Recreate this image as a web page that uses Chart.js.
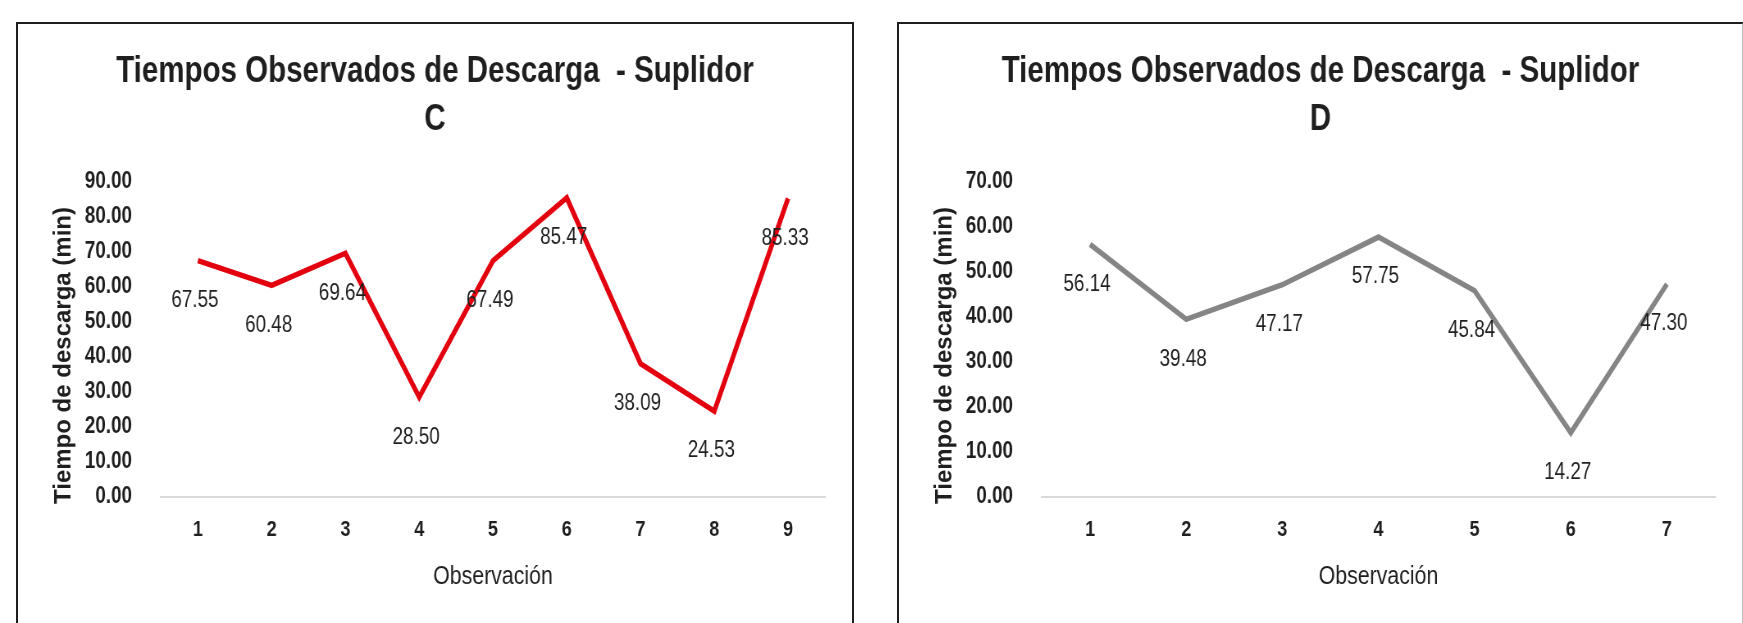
<!DOCTYPE html>
<html lang="es">
<head>
<meta charset="utf-8">
<title>Tiempos Observados de Descarga</title>
<script src="https://cdn.jsdelivr.net/npm/chart.js@4/dist/chart.umd.min.js"></script>
<style>
  html, body { margin: 0; padding: 0; background: #ffffff; overflow: hidden; }
  body { width: 1743px; height: 623px; position: relative; }
  .panel { position: absolute; top: 22px; height: 700px; border: 2px solid #1e1e1e; background: #fff; overflow: hidden; }
  #panelC { left: 16px; width: 834px; }
  #panelD { left: 897px; width: 843px; border-right-color: #bdbdbd; }
  .squeeze { transform-origin: 0 0; }
  canvas { display: block; }
</style>
</head>
<body>
<div class="panel" id="panelC"><div class="squeeze" id="wrapC"><canvas id="chartC"></canvas></div></div>
<div class="panel" id="panelD"><div class="squeeze" id="wrapD"><canvas id="chartD"></canvas></div></div>
<script>
// Observaciones y tiempos de descarga (min) por suplidor
const observacionesC = ['1', '2', '3', '4', '5', '6', '7', '8', '9'];
const tiemposC = [67.55, 60.48, 69.64, 28.50, 67.49, 85.47, 38.09, 24.53, 85.33];

const observacionesD = ['1', '2', '3', '4', '5', '6', '7'];
const tiemposD = [56.14, 39.48, 47.17, 57.75, 45.84, 14.27, 47.30];

const tituloC = ['Tiempos Observados de Descarga  - Suplidor', 'C'];
const tituloD = ['Tiempos Observados de Descarga  - Suplidor', 'D'];
const tituloEjeY = 'Tiempo de descarga (min)';
const tituloEjeX = 'Observación';

// Condensed look: the canvas is drawn wider and compressed horizontally
const S = 0.82;
const SIDE = 27;            // side padding, px on screen
const FONT = "'Liberation Sans', Arial, sans-serif";
const INK = '#1f1f1f';

// Etiquetas de valor debajo de cada punto y título vertical del eje Y
const etiquetas = {
  id: 'etiquetas',
  afterDatasetsDraw(chart) {
    const ctx = chart.ctx;
    const meta = chart.getDatasetMeta(0);
    const vals = chart.data.datasets[0].data;
    ctx.save();
    ctx.font = `23px ${FONT}`;
    ctx.fillStyle = INK;
    ctx.textAlign = 'center';
    ctx.textBaseline = 'middle';
    meta.data.forEach((pt, i) => {
      ctx.fillText(vals[i].toFixed(2), pt.x - 3 / S, pt.y + 40);
    });
    ctx.restore();
  },
  afterDraw(chart) {
    const ctx = chart.ctx;
    const a = chart.chartArea;
    ctx.save();
    ctx.font = `bold 24px ${FONT}`;
    ctx.fillStyle = INK;
    ctx.textAlign = 'center';
    ctx.textBaseline = 'middle';
    ctx.translate(46 / S, (a.top + a.bottom) / 2 + 16);
    ctx.scale(1 / S, 1);
    ctx.rotate(-Math.PI / 2);
    ctx.fillText(tituloEjeY, 0, 0);
    ctx.restore();
  }
};

function crear(id, wrapId, panelWidth, labels, data, titulo, color, maxY) {
  const canvas = document.getElementById(id);
  const w = Math.round(panelWidth / S);
  const h = 599;
  canvas.width = w;
  canvas.height = h;
  canvas.style.width = w + 'px';
  canvas.style.height = h + 'px';
  document.getElementById(wrapId).style.transform = `scaleX(${S})`;

  return new Chart(canvas, {
    type: 'line',
    data: {
      labels: labels,
      datasets: [{
        data: data,
        borderColor: color,
        backgroundColor: color,
        borderWidth: 5.5,
        pointRadius: 0,
        pointHoverRadius: 0,
        tension: 0,
        fill: false
      }]
    },
    options: {
      responsive: false,
      animation: false,
      events: [],
      layout: { padding: { left: SIDE / S, right: SIDE / S, top: 0, bottom: 0 } },
      plugins: {
        legend: { display: false },
        tooltip: { enabled: false },
        title: {
          display: true,
          text: titulo,
          color: INK,
          font: { family: FONT, size: 36, weight: 'bold', lineHeight: 1.333 },
          padding: { top: 24, bottom: 38 }
        }
      },
      scales: {
        x: {
          offset: true,
          grid: { display: false, drawTicks: false, offset: true },
          border: { display: true, color: '#d9d9d9', width: 2 },
          ticks: { color: INK, padding: 20, font: { family: FONT, size: 22, weight: 'bold' } },
          title: {
            display: true,
            text: tituloEjeX,
            color: INK,
            font: { family: FONT, size: 26, weight: 'normal' },
            padding: { top: 0, bottom: 31 }
          },
          afterFit(s) { s.height = 126; }
        },
        y: {
          min: 0,
          max: maxY,
          grid: { display: false, drawTicks: false },
          border: { display: false },
          ticks: {
            stepSize: 10,
            color: INK,
            padding: 29 / S,
            font: { family: FONT, size: 23, weight: 'bold' },
            callback: v => Number(v).toFixed(2)
          },
          afterFit(s) { s.width = (143 - SIDE) / S; }
        }
      }
    },
    plugins: [etiquetas]
  });
}

crear('chartC', 'wrapC', 834, observacionesC, tiemposC, tituloC, '#e3000f', 90);
crear('chartD', 'wrapD', 843, observacionesD, tiemposD, tituloD, '#858585', 70);
</script>
</body>
</html>
